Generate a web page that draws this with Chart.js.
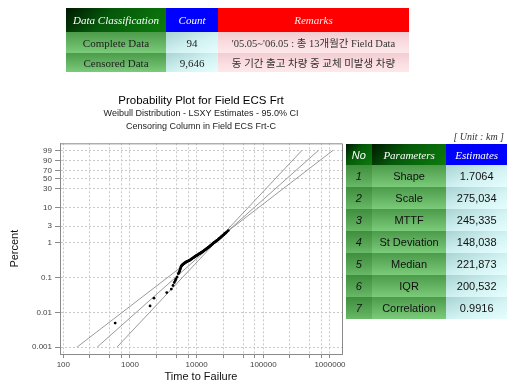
<!DOCTYPE html>
<html>
<head>
<meta charset="utf-8">
<script src="https://cdn.jsdelivr.net/npm/chart.js@4.4.1/dist/chart.umd.min.js"></script>
<style>
  html, body { margin: 0; padding: 0; background: #fff; width: 507px; height: 384px; overflow: hidden; }
  body { position: relative; }
  #plot { position: absolute; left: 0; top: 0; }
  table { position: absolute; border-collapse: collapse; table-layout: fixed; }
  td, th { padding: 0; text-align: center; vertical-align: middle; white-space: nowrap; overflow: hidden; }
  th { font: italic 11px "Liberation Serif", serif; color: #fff; font-weight: normal; }
  .hd-green { background: linear-gradient(135deg, #001800 0%, #05580a 40%, #0c7c0c 100%); }
  .hd-blue { background: #0000ff; }
  .hd-red { background: #ff0000; color: #ffe8e8; }
  .c-green { background: linear-gradient(to bottom, #4b9b4b 0%, #6cbc6c 70%, #7acb7a 100%); }
  .c-green-dk { background: linear-gradient(to bottom, #3e8e3e 0%, #5aaa5a 70%, #68b968 100%); }
  .c-cyan { background: linear-gradient(to bottom right, #a9d3d3 0%, #d2f2f2 55%, #e6fdfd 100%); }
  .c-pink { background: linear-gradient(to bottom, #f2ccd1 0%, #fbdfe2 60%, #fde8ea 100%); }
  #summary td { font: 11px "Liberation Serif", serif; color: #222; }
  #summary td.kr { font: 10.5px "Liberation Serif", "Noto Sans CJK KR", serif; color: #333; }
  #params td { font: 11px "Liberation Sans", Arial, sans-serif; color: #111; }
  #params td.no { font-style: italic; }
  #unit { position: absolute; right: 3px; top: 131px; font: italic 10px "Liberation Serif", serif; color: #333; }
</style>
</head>
<body>
<canvas id="plot" width="507" height="384"></canvas>

<table id="summary" style="left:66px; top:8px;">
  <colgroup><col style="width:100px"><col style="width:52px"><col style="width:191px"></colgroup>
  <tr style="height:24px"><th class="hd-green">Data Classification</th><th class="hd-blue">Count</th><th class="hd-red">Remarks</th></tr>
  <tr style="height:21px"><td class="c-green">Complete Data</td><td class="c-cyan">94</td><td class="c-pink kr">'05.05~'06.05 : 총 13개월간 Field Data</td></tr>
  <tr style="height:19px"><td class="c-green">Censored Data</td><td class="c-cyan">9,646</td><td class="c-pink kr">동 기간 출고 차량 중 교체 미발생 차량</td></tr>
</table>

<div id="unit">[ Unit : km ]</div>

<table id="params" style="left:346px; top:144px;">
  <colgroup><col style="width:26px"><col style="width:75px"><col style="width:61px"></colgroup>
  <tr style="height:21px"><th class="hd-green" style="font-family:'Liberation Sans',sans-serif;">No</th><th class="hd-green">Parameters</th><th class="hd-blue">Estimates</th></tr>
  <tr style="height:22px"><td class="c-green-dk no">1</td><td class="c-green">Shape</td><td class="c-cyan">1.7064</td></tr>
  <tr style="height:22px"><td class="c-green-dk no">2</td><td class="c-green">Scale</td><td class="c-cyan">275,034</td></tr>
  <tr style="height:22px"><td class="c-green-dk no">3</td><td class="c-green">MTTF</td><td class="c-cyan">245,335</td></tr>
  <tr style="height:22px"><td class="c-green-dk no">4</td><td class="c-green">St Deviation</td><td class="c-cyan">148,038</td></tr>
  <tr style="height:22px"><td class="c-green-dk no">5</td><td class="c-green">Median</td><td class="c-cyan">221,873</td></tr>
  <tr style="height:22px"><td class="c-green-dk no">6</td><td class="c-green">IQR</td><td class="c-cyan">200,532</td></tr>
  <tr style="height:22px"><td class="c-green-dk no">7</td><td class="c-green">Correlation</td><td class="c-cyan">0.9916</td></tr>
</table>

<script>
// Failure mileages (km) and their plotting positions (percent failed)
const failureKm = [
  600, 2000, 2290, 3560, 4170, 4420, 4620, 4790, 4900, 5080, 5310, 5440,
  5530, 5630, 5690, 5770, 5830, 5910, 6030, 6160, 6290, 6420, 6550, 6690, 6830, 6970, 7120, 7270, 7420, 7600, 7790, 7950,
  8110, 8300, 8460, 8640, 8830, 9000, 9180, 9390, 9580, 9770,
  9990, 10190, 10400, 10630, 10840, 11060, 11310, 11540, 11770, 12030,
  12270, 12520, 12800, 13060, 13320, 13620, 13900, 14180, 14490, 14790,
  15080, 15420, 15730, 16050, 16410, 16740, 17080, 17460, 17800, 18190,
  18560, 18940, 19360, 19750, 20150, 20600, 21010, 21460, 21900, 22350,
  22840, 23300, 23780, 24300, 24800, 25310, 25850, 26370, 26950, 27500,
  28460, 29850
];
const failurePct = [
  0.0049, 0.0153, 0.0255, 0.0371, 0.0465, 0.0591, 0.0721, 0.0824, 0.0904, 0.103, 0.129, 0.140,
  0.152, 0.168, 0.179, 0.192, 0.205, 0.216, 0.227, 0.234, 0.244, 0.250, 0.259, 0.267, 0.275, 0.280, 0.286, 0.292, 0.298, 0.306, 0.312, 0.318,
  0.329, 0.337, 0.345, 0.358, 0.369, 0.376, 0.387, 0.401, 0.411, 0.418,
  0.432, 0.439, 0.450, 0.465, 0.477, 0.485, 0.497, 0.514, 0.527, 0.536,
  0.556, 0.569, 0.586, 0.609, 0.626, 0.640, 0.660, 0.686, 0.706, 0.722,
  0.749, 0.766, 0.789, 0.822, 0.851, 0.874, 0.905, 0.945, 0.978, 1.000,
  1.036, 1.060, 1.092, 1.133, 1.167, 1.193, 1.230, 1.284, 1.329, 1.366,
  1.424, 1.464, 1.515, 1.580, 1.636, 1.681, 1.741, 1.815, 1.878, 1.930,
  2.054, 2.224
];

// Weibull fit (LSXY) and 95% confidence band end points
const shapeEst = 1.7064;
const scaleEst = 275034;
const bandPct = [0.001, 99];
const upperBandKm = [161, 1110000];
const lowerBandKm = [640, 380000];

// Axis ticks
const percentTicks = [0.001, 0.01, 0.1, 1, 3, 10, 30, 50, 70, 90, 99];
const kmGrid = [100, 250, 500, 750, 1000, 2500, 5000, 7500, 10000, 25000, 50000, 75000,
                100000, 250000, 500000, 750000, 1000000];
const kmLabels = [100, 1000, 10000, 100000, 1000000];
const kmRange = [89.2, 1514000];
const pctRange = [0.00063, 99.935];

// Weibull probability-paper transform
const weib = p => Math.log(-Math.log(1 - p / 100));
const fitKm = bandPct.map(p => scaleEst * Math.pow(-Math.log(1 - p / 100), 1 / shapeEst));

const pts = failureKm.map((km, i) => ({ x: km, y: weib(failurePct[i]) }));
const linePts = kms => kms.map((km, i) => ({ x: km, y: weib(bandPct[i]) }));

const frame = {
  id: 'frame',
  afterDatasetsDraw(chart) {
    const a = chart.chartArea, ctx = chart.ctx;
    ctx.save();
    ctx.strokeStyle = '#8a8a8a';
    ctx.lineWidth = 1;
    ctx.beginPath();
    ctx.moveTo(a.left, a.top + 0.5);
    ctx.lineTo(a.right + 0.5, a.top + 0.5);
    ctx.lineTo(a.right + 0.5, a.bottom);
    ctx.stroke();
    ctx.restore();
  }
};

const tickFont = { family: 'Liberation Sans, Arial, sans-serif', size: 8 };

new Chart(document.getElementById('plot'), {
  type: 'scatter',
  data: {
    datasets: [
      { data: pts, pointRadius: 1.4, pointBackgroundColor: '#000', pointBorderWidth: 0, showLine: false, order: 0 },
      { data: linePts(fitKm), showLine: true, borderColor: '#9a9a9a', borderWidth: 1, pointRadius: 0, order: 1 },
      { data: linePts(upperBandKm), showLine: true, borderColor: '#9a9a9a', borderWidth: 1, pointRadius: 0, order: 1 },
      { data: linePts(lowerBandKm), showLine: true, borderColor: '#9a9a9a', borderWidth: 1, pointRadius: 0, order: 1 }
    ]
  },
  options: {
    responsive: false,
    animation: false,
    devicePixelRatio: 1,
    layout: { padding: { left: 0, top: 94, right: 165, bottom: 0 } },
    plugins: {
      legend: { display: false },
      tooltip: { enabled: false },
      title: {
        display: true, fullSize: false,
        text: 'Probability Plot for Field ECS Frt',
        color: '#000',
        font: { family: 'Liberation Sans, Arial, sans-serif', size: 11.5, weight: 'normal', lineHeight: 1.15 },
        padding: { top: 0, bottom: 0 }
      },
      subtitle: {
        display: true, fullSize: false,
        text: ['Weibull Distribution - LSXY Estimates - 95.0% CI', 'Censoring Column in Field ECS Frt-C'],
        color: '#222',
        font: { family: 'Liberation Sans, Arial, sans-serif', size: 9, lineHeight: 1.45 },
        padding: { top: 0, bottom: 10 }
      }
    },
    scales: {
      x: {
        type: 'logarithmic',
        min: kmRange[0], max: kmRange[1],
        afterBuildTicks: s => { s.ticks = kmGrid.map(v => ({ value: v })); },
        afterFit: s => { s.height = 30; },
        ticks: {
          autoSkip: false, maxRotation: 0, padding: 2, color: '#444', font: tickFont,
          callback: v => kmLabels.includes(v) ? String(v) : ''
        },
        grid: { color: '#c9c9c9', lineWidth: 1, tickLength: 4, tickColor: '#8a8a8a' },
        border: { display: true, color: '#8a8a8a', dash: [2, 2] },
        title: {
          display: true, text: 'Time to Failure', color: '#111',
          font: { family: 'Liberation Sans, Arial, sans-serif', size: 11, lineHeight: 1.2 },
          padding: { top: 0, bottom: 0 }
        }
      },
      y: {
        type: 'linear',
        min: weib(pctRange[0]), max: weib(pctRange[1]),
        afterBuildTicks: s => { s.ticks = percentTicks.map(p => ({ value: weib(p), label: String(p) })); },
        afterFit: s => { s.width = 60; },
        ticks: {
          autoSkip: false, padding: 3, color: '#444', font: tickFont,
          callback: (v, i) => String(percentTicks[i])
        },
        grid: { color: '#c9c9c9', lineWidth: 1, tickLength: 5, tickColor: '#8a8a8a' },
        border: { display: true, color: '#8a8a8a', dash: [2, 2] },
        title: {
          display: true, text: 'Percent', color: '#111',
          font: { family: 'Liberation Sans, Arial, sans-serif', size: 11, lineHeight: 1.2 },
          padding: { top: 8, bottom: 0 }
        }
      }
    }
  },
  plugins: [frame]
});
</script>
</body>
</html>
